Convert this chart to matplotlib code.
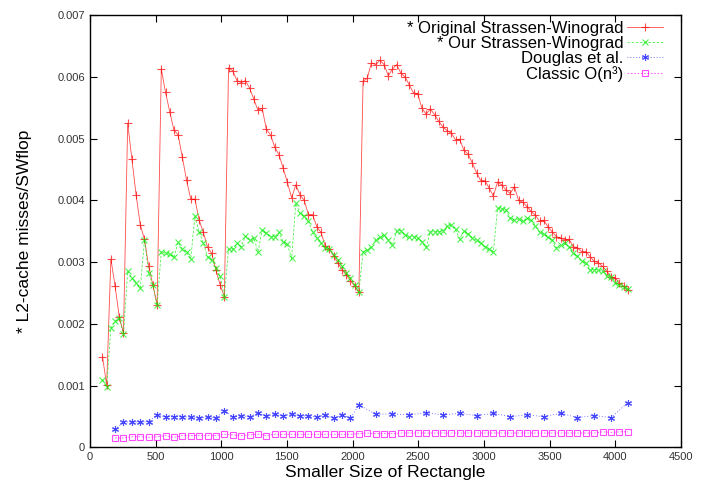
import numpy as np
import matplotlib
matplotlib.use('Agg')
import matplotlib.pyplot as plt

plt.rcParams['font.family'] = ['Liberation Sans', 'DejaVu Sans']

# matrix sizes for the two strassen-winograd runs (step 32)
sizes_sw = np.arange(96, 4097, 32)

# original strassen-winograd, misses per SWflop (x 1e-3)
orig_sw = [1.47, 1.01, 3.05, 2.61, 2.11, 1.85, 5.25, 4.67, 4.09, 3.60,
           3.37, 2.93, 2.63, 2.31, 6.13, 5.75, 5.44, 5.14, 5.06, 4.70,
           4.33, 4.02, 4.02, 3.68, 3.48, 3.24, 3.14, 2.87, 2.63, 2.44,
           6.15, 6.10, 5.94, 5.91, 5.94, 5.82, 5.64, 5.46, 5.49, 5.15,
           5.06, 4.86, 4.74, 4.52, 4.29, 4.04, 4.25, 4.09, 4.00, 3.77,
           3.77, 3.57, 3.48, 3.26, 3.21, 3.10, 2.99, 2.88, 2.79, 2.70,
           2.61, 2.52, 5.93, 5.98, 6.23, 6.20, 6.27, 6.20, 6.02, 6.13,
           6.20, 6.06, 6.00, 5.87, 5.74, 5.73, 5.49, 5.40, 5.48, 5.39,
           5.28, 5.19, 5.13, 5.09, 4.98, 4.99, 4.81, 4.75, 4.60, 4.45,
           4.32, 4.32, 4.20, 4.07, 4.30, 4.25, 4.17, 4.11, 4.22, 4.00,
           3.97, 3.90, 3.82, 3.76, 3.66, 3.68, 3.57, 3.49, 3.41, 3.39,
           3.36, 3.37, 3.25, 3.23, 3.17, 3.17, 3.09, 3.01, 2.99, 2.93,
           2.85, 2.76, 2.74, 2.66, 2.61, 2.54]

# our strassen-winograd (x 1e-3)
our_sw = [1.09, 0.98, 1.93, 2.04, 2.09, 1.84, 2.85, 2.74, 2.66, 2.58,
          3.36, 2.82, 2.63, 2.30, 3.17, 3.14, 3.13, 3.08, 3.32, 3.21,
          3.16, 3.05, 3.74, 3.49, 3.31, 3.09, 3.04, 2.90, 2.77, 2.44,
          3.21, 3.21, 3.31, 3.25, 3.42, 3.36, 3.39, 3.17, 3.52, 3.47,
          3.41, 3.41, 3.48, 3.33, 3.29, 3.06, 3.95, 3.79, 3.74, 3.66,
          3.49, 3.39, 3.31, 3.23, 3.21, 3.12, 3.04, 2.93, 2.83, 2.74,
          2.63, 2.51, 3.17, 3.19, 3.25, 3.36, 3.40, 3.44, 3.36, 3.28,
          3.51, 3.51, 3.44, 3.41, 3.41, 3.39, 3.33, 3.24, 3.49, 3.49,
          3.49, 3.51, 3.58, 3.60, 3.53, 3.37, 3.51, 3.46, 3.39, 3.35,
          3.31, 3.25, 3.21, 3.17, 3.87, 3.86, 3.85, 3.71, 3.68, 3.70,
          3.66, 3.71, 3.68, 3.58, 3.48, 3.46, 3.40, 3.36, 3.23, 3.28,
          3.31, 3.25, 3.14, 3.10, 3.01, 2.99, 2.87, 2.88, 2.87, 2.85,
          2.77, 2.76, 2.66, 2.63, 2.60, 2.56]

# douglas et al. : step 64 up to 2048, then step 128
sizes_douglas = list(range(192, 2049, 64)) + list(range(2176, 4097, 128))
douglas = [0.29, 0.405, 0.415, 0.405, 0.415, 0.523, 0.496, 0.496, 0.496, 0.486,
           0.470, 0.486, 0.470, 0.593, 0.496, 0.507, 0.496, 0.551, 0.507, 0.535,
           0.507, 0.540, 0.507, 0.507, 0.486, 0.523, 0.470, 0.523, 0.470, 0.686,
           0.535, 0.540, 0.523, 0.561, 0.523, 0.551, 0.513, 0.551, 0.496, 0.523,
           0.496, 0.551, 0.480, 0.513, 0.480, 0.723]

# classic O(n^3), step 64
sizes_classic = np.arange(192, 4097, 64)
classic = [0.15, 0.15, 0.17, 0.17, 0.16, 0.17, 0.19, 0.16, 0.19, 0.19,
           0.19, 0.19, 0.19, 0.21, 0.20, 0.19, 0.20, 0.21, 0.19, 0.21,
           0.21, 0.21, 0.21, 0.21, 0.21, 0.21, 0.21, 0.21, 0.21, 0.22,
           0.23, 0.22, 0.22, 0.22, 0.23, 0.23, 0.23, 0.23, 0.23, 0.23,
           0.23, 0.23, 0.23, 0.23, 0.23, 0.23, 0.23, 0.23, 0.23, 0.23,
           0.23, 0.23, 0.23, 0.23, 0.23, 0.23, 0.23, 0.23, 0.25, 0.24,
           0.25, 0.25]

fig = plt.figure(figsize=(7.02, 4.92), dpi=100)
ax = fig.add_axes([0.128, 0.091, 0.842, 0.878])

ax.plot(sizes_sw, np.array(orig_sw) / 1000, color='#ff0000', lw=0.6, alpha=0.7,
        marker='+', ms=6, mew=0.8, label='* Original Strassen-Winograd')
ax.plot(sizes_sw, np.array(our_sw) / 1000, color='#00ee00', lw=0.6, alpha=0.7,
        ls=(0, (3, 2)), marker='x', ms=5, mew=0.8, label='* Our Strassen-Winograd')
ax.plot(sizes_douglas, np.array(douglas) / 1000, color='#0000ff', lw=0.6, alpha=0.7,
        ls=(0, (1, 2.5)), marker=(6, 2, 0), ms=5, mew=0.8, label='Douglas et al.')
ax.plot(sizes_classic, np.array(classic) / 1000, color='#ff00ff', lw=0.6, alpha=0.7,
        ls=(0, (2, 2)), marker='s', ms=5, mew=0.8, mfc='none', label='Classic O(n\u00b3)')

ax.set_xlim(0, 4500)
ax.set_ylim(0, 0.007)
ax.set_xticks(np.arange(0, 4501, 500))
ax.set_yticks(np.arange(0, 0.0071, 0.001))
ax.set_yticklabels(['0'] + ['%.3f' % v for v in np.arange(0.001, 0.0071, 0.001)])
ax.tick_params(direction='in', top=True, right=True, length=5, width=0.8,
               labelsize=8, labelcolor='#333333')
for s in ax.spines.values():
    s.set_linewidth(1.0)

ax.set_xlabel('Smaller Size of Rectangle', fontsize=12.5, labelpad=2)
ax.set_ylabel('* L2-cache misses/SWflop', fontsize=12.5, labelpad=18)

# legend: text right-aligned, sample to the right (gnuplot style)
ax.legend(loc='upper right', bbox_to_anchor=(0.98, 1.0), frameon=False,
          markerfirst=False, fontsize=12, handlelength=2.2, labelspacing=0.0,
          borderaxespad=0.1, handletextpad=0.2, borderpad=0.25)

plt.savefig('out.png', dpi=100)
